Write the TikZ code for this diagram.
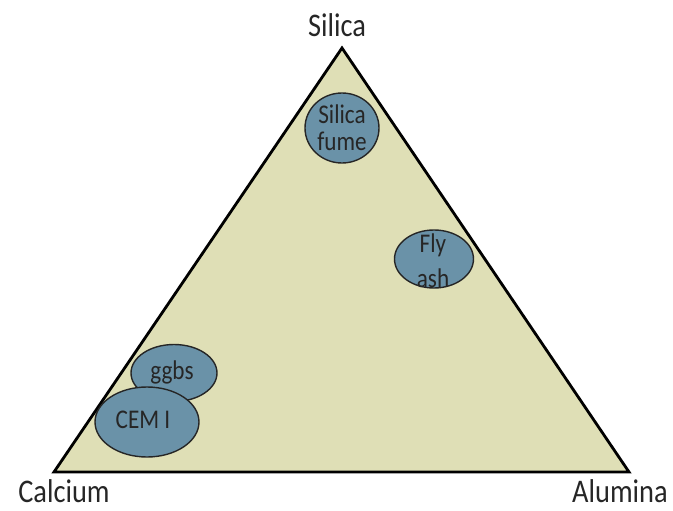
\documentclass[tikz,border=0pt]{standalone}
\usepackage{fontspec}
\setmainfont[FakeStretch=0.86]{Carlito}
\usetikzlibrary{shapes.geometric}
\begin{document}
\begin{tikzpicture}[x=1pt,y=-1pt,
  corner/.style={font=\fontsize{33}{35}\selectfont, text=black!85, anchor=base, inner sep=0pt},
  material/.style={ellipse, draw=black!85, line width=1.4pt, fill=blobblue, inner sep=0pt},
  tag/.style={align=center, text=black!85, inner sep=0pt, font=\fontsize{27}{27}\selectfont},
  ]
  \definecolor{plainfill}{RGB}{223,223,182}
  \definecolor{blobblue}{RGB}{106,146,168}
  \useasboundingbox (0,0) rectangle (673,511);

  % corners of the ternary triangle
  \coordinate (S) at (342,48);
  \coordinate (C) at (54,472);
  \coordinate (A) at (629,472);
  \draw[line width=2.8pt, line join=miter, fill=plainfill] (S) -- (A) -- (C) -- cycle;

  \node[corner] (ls) at (337,37) {Silica};
  \node[corner] (lc) at (64,502) {Calcium};
  \node[corner] (la) at (620,502) {Alumina};

  % materials: outline first, then its name on top
  \node[material, minimum width=74pt, minimum height=70pt] (sf) at (342,128) {};
  \node[tag] (sft) at (342,128) {Silica\\fume};
  \node[material, minimum width=79pt, minimum height=58pt] (fa) at (434,259) {};
  \node[tag] (fat) at (433,261) {Fly\\[8pt]ash};
  \node[material, minimum width=86pt, minimum height=57pt] (gg) at (174,373) {};
  \node[tag] (ggt) at (172,372) {ggbs};
  \node[material, minimum width=104pt, minimum height=70pt] (ce) at (147,422) {};
  \node[tag] (cet) at (143,420) {CEM I};
\end{tikzpicture}
\end{document}
